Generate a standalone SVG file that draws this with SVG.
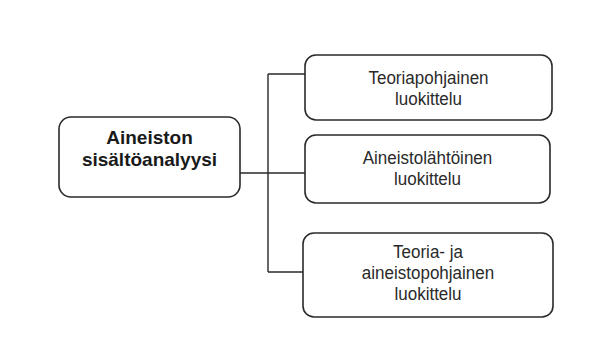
<svg xmlns="http://www.w3.org/2000/svg" width="595" height="340" viewBox="0 0 595 340">
<style>
.box{fill:#fff;stroke:#2a2a2a;stroke-width:1.6}
.line{fill:none;stroke:#2a2a2a;stroke-width:1.4}
.t{font-family:"Liberation Sans",Arial,sans-serif;font-size:18.5px;fill:#2a2a2a;text-anchor:middle}
.b{font-family:"Liberation Sans",Arial,sans-serif;font-size:19px;font-weight:bold;fill:#1a1a1a;text-anchor:middle}
</style>
<rect width="595" height="340" fill="#fff"/>
<g id="connectors">
<path class="line" d="M240,173 H268 M268,74 V272 M268,74 H305 M268,173 H305 M268,272 H303"/>
</g>
<g id="main">
<rect class="box" x="59" y="117" width="181" height="80" rx="12"/>
<text class="b" x="149.5" y="144">Aineiston</text>
<text class="b" x="149.5" y="166">sisältöanalyysi</text>
</g>
<g id="n1">
<rect class="box" x="305" y="55" width="247" height="65" rx="11"/>
<g transform="translate(428.5,0) scale(0.92,1)">
<text class="t" x="0" y="84.5">Teoriapohjainen</text>
<text class="t" x="0" y="105.5">luokittelu</text>
</g>
</g>
<g id="n2">
<rect class="box" x="305" y="135" width="245" height="68" rx="11"/>
<g transform="translate(427.5,0) scale(0.92,1)">
<text class="t" x="0" y="164">Aineistolähtöinen</text>
<text class="t" x="0" y="185">luokittelu</text>
</g>
</g>
<g id="n3">
<rect class="box" x="303" y="233" width="250" height="84" rx="11"/>
<g transform="translate(428,0) scale(0.92,1)">
<text class="t" x="0" y="258">Teoria- ja</text>
<text class="t" x="0" y="279">aineistopohjainen</text>
<text class="t" x="0" y="300">luokittelu</text>
</g>
</g>
</svg>
